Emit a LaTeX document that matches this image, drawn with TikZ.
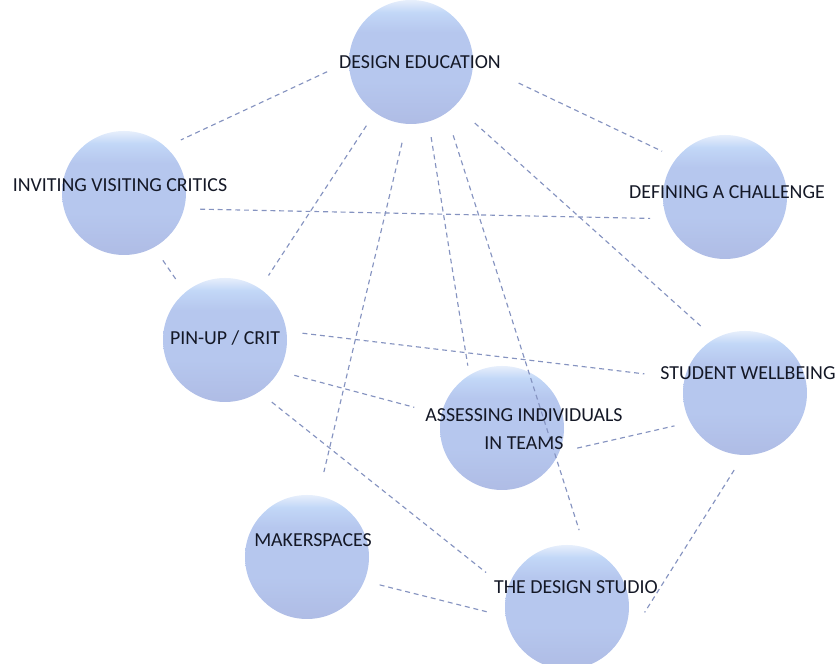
\documentclass[tikz,border=0pt]{standalone}
\usepackage{fontspec}
\setmainfont{Carlito}
\usepackage{tikz}
\usetikzlibrary{shapes.geometric}
\usepackage{xcolor}

\definecolor{bubblebot}{HTML}{AFBCE5}
\definecolor{bubblemid}{HTML}{B6C7EE}
\definecolor{bubbletop}{HTML}{C2D7F7}
\definecolor{linkblue}{HTML}{8593C0}
\definecolor{labelink}{HTML}{141826}
\pgfdeclareverticalshading{bubbleshade}{100bp}{color(0bp)=(bubblebot); color(25bp)=(bubblebot); color(42bp)=(bubblemid); color(62bp)=(bubblemid); color(70bp)=(bubbletop); color(75bp)=(white!60!bubbletop); color(100bp)=(white)}

\begin{document}
\begin{tikzpicture}[
    bubble/.style={circle, shading=bubbleshade, minimum size=2.48cm, inner sep=0pt, outer sep=9pt},
    topic/.style={font=\fontsize{11.3}{16}\selectfont, text=labelink, align=center, inner sep=0pt},
    link/.style={linkblue, line width=0.65pt, dash pattern=on 2.8pt off 2.2pt}
  ]
            \useasboundingbox (0,0) rectangle (16.76,13.28);
            % Bubbles
            \node[bubble] (edu) at (8.22,12.04) {};
            \node[bubble] (critics) at (2.48,9.42) {};
            \node[bubble] (pinup) at (4.50,6.48) {};
            \node[bubble] (assess) at (10.04,4.72) {};
            \node[bubble] (wellbeing) at (14.90,5.42) {};
            \node[bubble] (challenge) at (14.50,9.34) {};
            \node[bubble] (maker) at (6.14,2.14) {};
            \node[bubble] (studio) at (11.34,1.14) {};
            
            % Dashed links
            \draw[link, shorten <=4pt] (edu.185) -- (critics.43);
            \draw[link, shorten <=19pt] (edu.-5) -- (challenge.144);
            \draw[link] (edu.235) -- (pinup.56);
            \draw[link, shorten <=2pt, shorten >=5pt] (edu.264) -- (maker.79);
            \draw[link, shorten >=-4pt] (edu.285) -- (assess.117);
            \draw[link, shorten <=4pt] (edu.301) -- (studio.81);
            \draw[link, shorten <=6pt] (edu.316) -- (wellbeing.123);
            \draw[link] (critics.-12) -- (challenge.196);
            \draw[link] (critics.-60) -- (pinup.129);
            \draw[link, shorten >=14pt] (pinup.5) -- (wellbeing.168);
            \draw[link, shorten >=7pt] (pinup.-27) -- (assess.167);
            \draw[link, shorten >=6pt] (pinup.-53) -- (studio.159);
            \draw[link] (assess.-15) -- (wellbeing.205);
            \draw[link] (wellbeing.262) -- (studio.-4);
            \draw[link] (maker.-21) -- (studio.184);
            
            % Labels
            \node[topic] (eduText) at (8.40,12.04) {DESIGN EDUCATION};
            \node[topic] (criticsText) at (2.40,9.58) {INVITING VISITING CRITICS};
            \node[topic] (pinupText) at (4.50,6.52) {PIN-UP / CRIT};
            \node[topic] (assessText) at (10.48,4.70) {ASSESSING INDIVIDUALS\\IN TEAMS};
            \node[topic] (wellbeingText) at (14.96,5.82) {STUDENT WELLBEING};
            \node[topic] (challengeText) at (14.54,9.44) {DEFINING A CHALLENGE};
            \node[topic] (makerText) at (6.26,2.48) {MAKERSPACES};
            \node[topic] (studioText) at (11.52,1.54) {THE DESIGN STUDIO};
        \end{tikzpicture}
\end{document}
